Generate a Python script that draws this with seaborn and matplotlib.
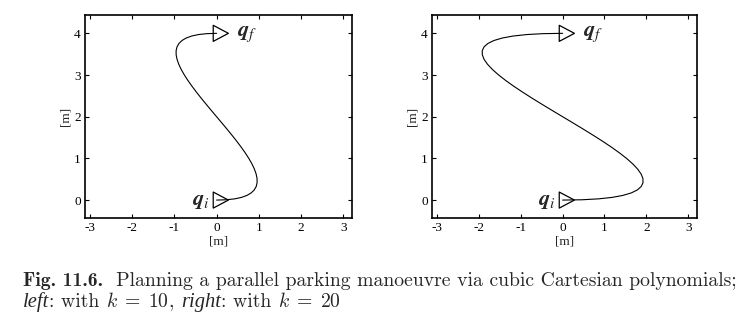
import numpy as np
import pandas as pd
import matplotlib
matplotlib.use("Agg")
import matplotlib.pyplot as plt
from matplotlib.path import Path
import seaborn as sns

# ---- data ----
path_y = [0, 0.0074, 0.029, 0.0641, 0.112, 0.1719, 0.243, 0.3246, 0.416, 0.5164,
          0.625, 0.7411, 0.864, 0.9929, 1.127, 1.2656, 1.408, 1.5534, 1.701, 1.8501,
          2.0, 2.1499, 2.299, 2.4466, 2.592, 2.7344, 2.873, 3.0071, 3.136, 3.2589,
          3.375, 3.4836, 3.584, 3.6754, 3.757, 3.8281, 3.888, 3.9359, 3.971, 3.9926, 4.0]
path_x_k10 = [0, 0.2316, 0.4275, 0.5897, 0.72, 0.8203, 0.8925, 0.9384, 0.96, 0.9591,
              0.9375, 0.8972, 0.84, 0.7678, 0.6825, 0.5859, 0.48, 0.3666, 0.2475, 0.1247,
              0, -0.1247, -0.2475, -0.3666, -0.48, -0.5859, -0.6825, -0.7678, -0.84, -0.8972,
              -0.9375, -0.9591, -0.96, -0.9384, -0.8925, -0.8203, -0.72, -0.5897, -0.4275, -0.2316, 0]
path_x_k20 = [0, 0.4631, 0.855, 1.1794, 1.44, 1.6406, 1.785, 1.8769, 1.92, 1.9181,
              1.875, 1.7944, 1.68, 1.5356, 1.365, 1.1719, 0.96, 0.7331, 0.495, 0.2494,
              0, -0.2494, -0.495, -0.7331, -0.96, -1.1719, -1.365, -1.5356, -1.68, -1.7944,
              -1.875, -1.9181, -1.92, -1.8769, -1.785, -1.6406, -1.44, -1.1794, -0.855, -0.4631, 0]
pose_names = ["i", "f"]
pose_x = [0, 0]
pose_y = [0, 4]
x_ticks = [-3, -2, -1, 0, 1, 2, 3]
y_ticks = [0, 1, 2, 3, 4]

sns.set_style("ticks")
plt.rcParams["font.family"] = ["Liberation Serif", "DejaVu Serif"]
plt.rcParams["mathtext.fontset"] = "stix"

fig = plt.figure(figsize=(7.44, 3.16), dpi=100)
ax_l = fig.add_axes([85/744, 1-218/316, 267/744, 203/316])
ax_r = fig.add_axes([432/744, 1-218/316, 265/744, 203/316])

tri = Path([(-0.42, 1.0), (-0.42, -1.0), (1.47, 0.0), (-0.42, 1.0)],
           [Path.MOVETO, Path.LINETO, Path.LINETO, Path.CLOSEPOLY])

poses = pd.DataFrame({"x": pose_x, "y": pose_y, "name": pose_names})

for ax, px in [(ax_l, path_x_k10), (ax_r, path_x_k20)]:
    df = pd.DataFrame({"x": px, "y": path_y})
    sns.lineplot(data=df, x="x", y="y", sort=False, estimator=None, color="k",
                 lw=0.8, ax=ax)
    sns.scatterplot(data=poses, x="x", y="y", marker=tri, s=17**2,
                    facecolor="none", edgecolor="k", linewidth=0.9, ax=ax, zorder=3)
    for _, r in poses.iterrows():
        lab = r"$\boldsymbol{q}_{%s}$" % r["name"]
        if r["name"] == "f":
            ax.annotate(lab, (r["x"], r["y"]), xytext=(15, -1), textcoords="offset points",
                        ha="left", va="center", fontsize=16)
        else:
            ax.annotate(lab, (r["x"], r["y"]), xytext=(-5, -1), textcoords="offset points",
                        ha="right", va="center", fontsize=16)
    ax.set_xlim(-3.12, 3.21)
    ax.set_ylim(-0.43, 4.44)
    ax.set_xticks(x_ticks)
    ax.set_yticks(y_ticks)
    ax.set_xticklabels([str(t) for t in x_ticks])
    ax.set_yticklabels([str(t) for t in y_ticks])
    ax.tick_params(direction="in", length=3, width=0.8, top=True, right=True,
                   labelsize=9.5, pad=3, colors="k")
    for sp in ax.spines.values():
        sp.set_visible(True)
        sp.set_linewidth(1.2)
        sp.set_color("k")
    ax.set_xlabel("[m]", fontsize=9.5, labelpad=1)
    ax.set_ylabel("[m]", fontsize=9.5, labelpad=2)

# ---- caption built from pieces (bold / roman / italic / math) ----
cap_fs = 14.2
line1 = [("Fig. 11.6.", "cmb10", "normal"),
         ("  Planning a parallel parking manoeuvre via cubic Cartesian polynomials;", "cmr10", "normal")]
line2 = [("left", "Liberation Serif", "italic"), (": with ", "cmr10", "normal"),
         (r"$k\;=\;10$", "cmr10", "normal"), (", ", "cmr10", "normal"),
         ("right", "Liberation Serif", "italic"), (": with ", "cmr10", "normal"),
         (r"$k\;=\;20$", "cmr10", "normal")]

renderer = fig.canvas.get_renderer()
x0 = 23
for line, ybase in [(line1, 286), (line2, 307)]:
    xpos = x0
    for txt, fam, sty in line:
        t = fig.text(xpos/744, 1-ybase/316, txt, family=fam, style=sty,
                     fontsize=cap_fs if fam != "Liberation Serif" else cap_fs + 0.6,
                     ha="left", va="baseline", math_fontfamily="cm")
        xpos += t.get_window_extent(renderer=renderer).width

fig.savefig("out.png", dpi=100)
